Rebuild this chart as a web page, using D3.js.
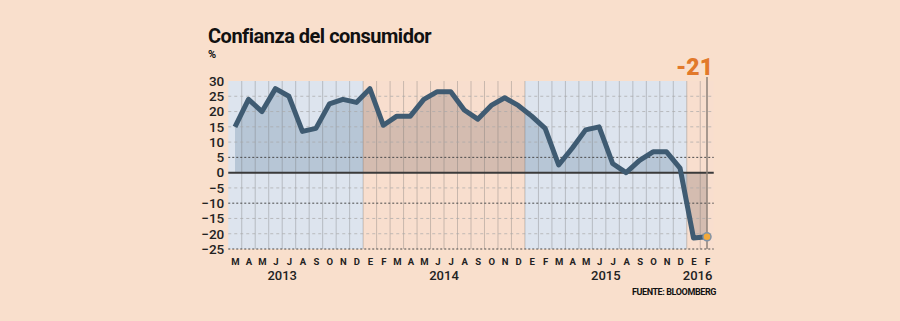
<!DOCTYPE html>
<html>
<head>
<meta charset="utf-8">
<script src="https://cdn.jsdelivr.net/npm/d3@7"></script>
<style>
  body { margin: 0; background: #f9dfcc; }
  text { font-family: Roboto, "Liberation Sans", sans-serif; }
</style>
</head>
<body>
<svg id="chart" width="900" height="321"></svg>
<script>
// months from March 2013 to February 2016
const monthLabels = ["M","A","M","J","J","A","S","O","N","D",
  "E","F","M","A","M","J","J","A","S","O","N","D",
  "E","F","M","A","M","J","J","A","S","O","N","D",
  "E","F"];
const values = [15, 24, 20, 27.5, 25, 13.5, 14.5, 22.5, 24, 23,
  27.5, 15.5, 18.5, 18.5, 24, 26.5, 26.5, 20.5, 17.5, 22, 24.5, 22,
  18.5, 14.5, 2.5, 8, 14, 15, 3, 0, 4, 6.8, 6.8, 1.5,
  -21.4, -21];
const yearLabels = ["2013", "2014", "2015", "2016"];
const yearStart = [0, 10, 22, 34];
const yearEnd = [9, 21, 33, 35];
const yearLabelAt = [3.5, 15.5, 27.5, 34.3];
const yTicks = [30, 25, 20, 15, 10, 5, 0, -5, -10, -15, -20, -25];
const strongTicks = [5, -10, -25];
const lastLabel = "-21";

const svg = d3.select("#chart");
const width = +svg.attr("width");
const height = +svg.attr("height");

const x = d3.scalePoint().domain(d3.range(values.length)).range([235, 707]);
const step = x.step();
const y = d3.scaleLinear().domain([-25, 30]).range([249, 81]);
const left = x(0) - step / 2;
const right = x(values.length - 1) + step / 2;

svg.append("rect").attr("width", width).attr("height", height).attr("fill", "#f9dfcc");

// title
svg.append("text").attr("x", 208).attr("y", 43)
  .attr("font-size", 20).attr("font-weight", 700).attr("fill", "#111")
  .attr("letter-spacing", -0.5)
  .text("Confianza del consumidor");
svg.append("text").attr("x", 208).attr("y", 58)
  .attr("font-size", 11).attr("font-weight", 700).attr("fill", "#111")
  .text("%");

// year bands
const bands = yearLabels.map((d, i) => ({
  x0: x(yearStart[i]) - step / 2,
  x1: x(yearEnd[i]) + step / 2,
  blue: i % 2 === 0
}));

svg.append("g").selectAll("rect")
  .data(bands)
  .join("rect")
  .attr("x", d => d.x0)
  .attr("y", y(30))
  .attr("width", d => d.x1 - d.x0)
  .attr("height", y(-25) - y(30))
  .attr("fill", d => d.blue ? "#dde4ee" : "#f8dece");

// area, coloured per band
const area = d3.area()
  .x((d, i) => x(i))
  .y0(y(0))
  .y1(d => y(d));

const defs = svg.append("defs");
bands.forEach((b, i) => {
  defs.append("clipPath").attr("id", "band" + i)
    .append("rect")
    .attr("x", b.x0).attr("y", 0)
    .attr("width", b.x1 - b.x0).attr("height", height);
  svg.append("path")
    .datum(values)
    .attr("clip-path", `url(#band${i})`)
    .attr("fill", b.blue ? "#b7c6d6" : "#d4bcb0")
    .attr("d", area);
});

// vertical grid
svg.append("g").selectAll("line")
  .data(d3.range(1, values.length))
  .join("line")
  .attr("x1", i => x(i) - step / 2)
  .attr("x2", i => x(i) - step / 2)
  .attr("y1", y(30))
  .attr("y2", y(-25))
  .attr("stroke", "#6f6f6f")
  .attr("stroke-opacity", 0.35)
  .attr("stroke-width", 1);

// horizontal grid
svg.append("g").selectAll("line")
  .data(yTicks.filter(d => d !== 0 && d !== 30))
  .join("line")
  .attr("x1", left)
  .attr("x2", right)
  .attr("y1", d => y(d))
  .attr("y2", d => y(d))
  .attr("stroke", d => strongTicks.includes(d) ? "#4a4a4a" : "#a8a8a8")
  .attr("stroke-opacity", d => strongTicks.includes(d) ? 1 : 0.7)
  .attr("stroke-dasharray", d => strongTicks.includes(d) ? "2,2" : "3,3")
  .attr("stroke-width", 1);

svg.append("line")
  .attr("x1", left).attr("x2", right)
  .attr("y1", y(0)).attr("y2", y(0))
  .attr("stroke", "#3a3a3a").attr("stroke-width", 2);

// highlight of last month
const last = values.length - 1;
svg.append("line")
  .attr("x1", x(last)).attr("x2", x(last))
  .attr("y1", 77).attr("y2", y(-25))
  .attr("stroke", "#8c8078").attr("stroke-width", 1.5);

// line
const line = d3.line()
  .x((d, i) => x(i))
  .y(d => y(d));

svg.append("path")
  .datum(values)
  .attr("fill", "none")
  .attr("stroke", "#3f5b72")
  .attr("stroke-width", 5)
  .attr("stroke-linejoin", "round")
  .attr("d", line);

svg.append("circle")
  .attr("cx", x(last)).attr("cy", y(values[last]))
  .attr("r", 4)
  .attr("fill", "#f2a93b")
  .attr("stroke", "#7f93a8")
  .attr("stroke-width", 1.5);

svg.append("text")
  .attr("x", x(last) + 6).attr("y", 75)
  .attr("text-anchor", "end")
  .attr("font-size", 23).attr("font-weight", 900).attr("fill", "#e2792a")
  .text(lastLabel);

// y axis
const yAxis = svg.append("g")
  .attr("transform", `translate(${left - 4},0)`)
  .call(d3.axisLeft(y).tickValues(yTicks).tickSize(0).tickPadding(0));
yAxis.select(".domain").remove();
yAxis.selectAll("text")
  .attr("font-family", "Roboto, sans-serif")
  .attr("font-size", 13.5).attr("font-weight", 500).attr("fill", "#222");

// x axis
const xAxis = svg.append("g")
  .attr("transform", `translate(0,${y(-25)})`)
  .call(d3.axisBottom(x).tickSize(0).tickPadding(9).tickFormat(i => monthLabels[i]));
xAxis.select(".domain").remove();
xAxis.selectAll("text")
  .attr("font-family", "'DejaVu Sans', sans-serif")
  .attr("font-size", 9.5).attr("font-weight", 700).attr("fill", "#222");

svg.append("g").selectAll("text")
  .data(yearLabels)
  .join("text")
  .attr("x", (d, i) => x(0) + yearLabelAt[i] * step)
  .attr("y", 280)
  .attr("text-anchor", "middle")
  .attr("font-size", 13).attr("font-weight", 500).attr("fill", "#222")
  .text(d => d);

svg.append("text")
  .attr("x", 716).attr("y", 295)
  .attr("text-anchor", "end")
  .attr("font-size", 9).attr("font-weight", 700).attr("fill", "#111")
  .attr("letter-spacing", -0.4)
  .text("FUENTE: BLOOMBERG");
</script>
</body>
</html>
